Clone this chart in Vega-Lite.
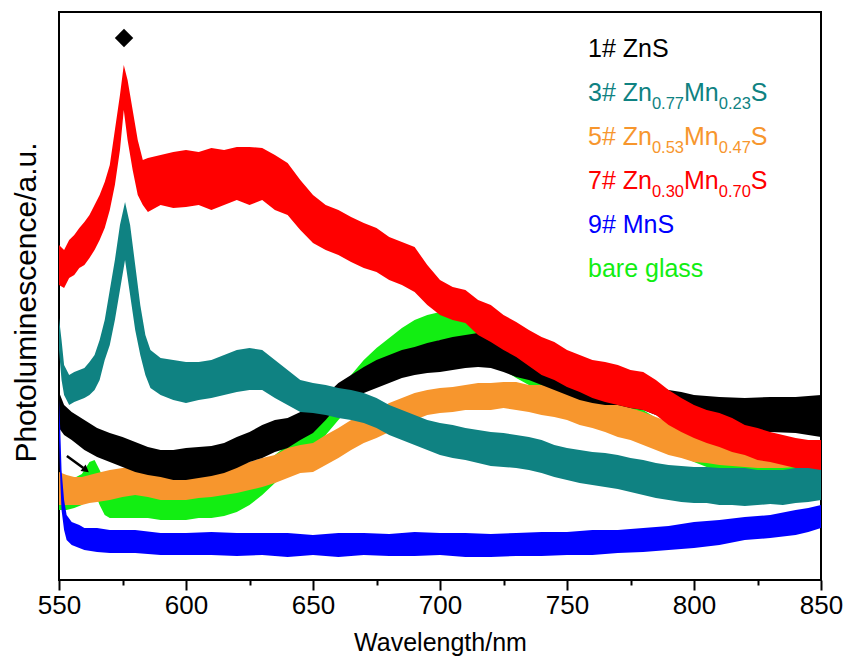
{
"$schema": "https://vega.github.io/schema/vega-lite/v6.json",
"width": 762, "height": 568,
"autosize": {"type": "none"},
"padding": {"left": 59, "top": 12, "right": 29, "bottom": 84},
"background": "white",
"config": {"view": {"stroke": "#000", "strokeWidth": 2}, "font": "Liberation Sans"},
"datasets": {
"pl": [
{"s":"7#","w":550,"v":335,"v2":295},{"s":"7#","w":552,"v":330,"v2":292},{"s":"7#","w":554,"v":340,"v2":302},{"s":"7#","w":556,"v":345,"v2":305},{"s":"7#","w":558,"v":352,"v2":312},{"s":"7#","w":560,"v":358,"v2":315},{"s":"7#","w":562,"v":365,"v2":322},{"s":"7#","w":564,"v":375,"v2":330},{"s":"7#","w":566,"v":385,"v2":340},{"s":"7#","w":568,"v":398,"v2":352},{"s":"7#","w":570,"v":415,"v2":370},{"s":"7#","w":572,"v":450,"v2":395},{"s":"7#","w":574,"v":485,"v2":430},{"s":"7#","w":575.5,"v":515,"v2":470},{"s":"7#","w":577,"v":500,"v2":440},{"s":"7#","w":579,"v":470,"v2":410},{"s":"7#","w":581,"v":440,"v2":385},{"s":"7#","w":583,"v":420,"v2":375},{"s":"7#","w":585,"v":422,"v2":368},{"s":"7#","w":590,"v":425,"v2":375},{"s":"7#","w":595,"v":428,"v2":372},{"s":"7#","w":600,"v":430,"v2":373},{"s":"7#","w":605,"v":428,"v2":375},{"s":"7#","w":610,"v":432,"v2":370},{"s":"7#","w":615,"v":430,"v2":375},{"s":"7#","w":620,"v":433,"v2":380},{"s":"7#","w":625,"v":433,"v2":375},{"s":"7#","w":630,"v":432,"v2":380},{"s":"7#","w":635,"v":425,"v2":370},{"s":"7#","w":640,"v":417,"v2":365},{"s":"7#","w":645,"v":400,"v2":350},{"s":"7#","w":650,"v":385,"v2":337},{"s":"7#","w":655,"v":375,"v2":330},{"s":"7#","w":660,"v":370,"v2":325},{"s":"7#","w":665,"v":363,"v2":318},{"s":"7#","w":670,"v":357,"v2":312},{"s":"7#","w":675,"v":352,"v2":308},{"s":"7#","w":680,"v":343,"v2":300},{"s":"7#","w":685,"v":338,"v2":295},{"s":"7#","w":690,"v":333,"v2":288},{"s":"7#","w":695,"v":315,"v2":275},{"s":"7#","w":700,"v":300,"v2":265},{"s":"7#","w":705,"v":293,"v2":260},{"s":"7#","w":710,"v":290,"v2":257},{"s":"7#","w":715,"v":280,"v2":245},{"s":"7#","w":720,"v":275,"v2":238},{"s":"7#","w":725,"v":265,"v2":230},{"s":"7#","w":730,"v":258,"v2":223},{"s":"7#","w":735,"v":250,"v2":214},{"s":"7#","w":740,"v":243,"v2":205},{"s":"7#","w":745,"v":238,"v2":200},{"s":"7#","w":750,"v":230,"v2":193},{"s":"7#","w":755,"v":225,"v2":188},{"s":"7#","w":760,"v":220,"v2":182},{"s":"7#","w":765,"v":218,"v2":178},{"s":"7#","w":770,"v":215,"v2":175},{"s":"7#","w":775,"v":210,"v2":172},{"s":"7#","w":780,"v":208,"v2":170},{"s":"7#","w":785,"v":200,"v2":165},{"s":"7#","w":790,"v":190,"v2":155},{"s":"7#","w":795,"v":182,"v2":148},{"s":"7#","w":800,"v":175,"v2":142},{"s":"7#","w":805,"v":170,"v2":137},{"s":"7#","w":810,"v":167,"v2":133},{"s":"7#","w":815,"v":162,"v2":128},{"s":"7#","w":820,"v":155,"v2":125},{"s":"7#","w":825,"v":152,"v2":120},{"s":"7#","w":830,"v":148,"v2":118},{"s":"7#","w":835,"v":145,"v2":115},{"s":"7#","w":840,"v":142,"v2":112},{"s":"7#","w":845,"v":140,"v2":112},{"s":"7#","w":850,"v":140,"v2":110},
{"s":"3#","w":550,"v":262,"v2":230},{"s":"3#","w":551,"v":240,"v2":200},{"s":"3#","w":552,"v":215,"v2":185},{"s":"3#","w":554,"v":205,"v2":175},{"s":"3#","w":556,"v":208,"v2":178},{"s":"3#","w":558,"v":210,"v2":180},{"s":"3#","w":560,"v":212,"v2":182},{"s":"3#","w":562,"v":218,"v2":185},{"s":"3#","w":564,"v":225,"v2":190},{"s":"3#","w":566,"v":240,"v2":200},{"s":"3#","w":568,"v":260,"v2":220},{"s":"3#","w":570,"v":290,"v2":235},{"s":"3#","w":572,"v":320,"v2":260},{"s":"3#","w":574,"v":355,"v2":290},{"s":"3#","w":576,"v":378,"v2":320},{"s":"3#","w":578,"v":355,"v2":285},{"s":"3#","w":580,"v":315,"v2":250},{"s":"3#","w":582,"v":275,"v2":225},{"s":"3#","w":584,"v":245,"v2":205},{"s":"3#","w":586,"v":230,"v2":192},{"s":"3#","w":590,"v":222,"v2":185},{"s":"3#","w":595,"v":220,"v2":180},{"s":"3#","w":600,"v":218,"v2":177},{"s":"3#","w":605,"v":218,"v2":180},{"s":"3#","w":610,"v":220,"v2":182},{"s":"3#","w":615,"v":225,"v2":185},{"s":"3#","w":620,"v":230,"v2":188},{"s":"3#","w":625,"v":232,"v2":190},{"s":"3#","w":630,"v":230,"v2":190},{"s":"3#","w":635,"v":220,"v2":182},{"s":"3#","w":640,"v":210,"v2":175},{"s":"3#","w":645,"v":200,"v2":168},{"s":"3#","w":650,"v":197,"v2":167},{"s":"3#","w":655,"v":195,"v2":165},{"s":"3#","w":660,"v":192,"v2":162},{"s":"3#","w":665,"v":190,"v2":160},{"s":"3#","w":670,"v":187,"v2":157},{"s":"3#","w":675,"v":182,"v2":152},{"s":"3#","w":680,"v":175,"v2":145},{"s":"3#","w":685,"v":170,"v2":140},{"s":"3#","w":690,"v":165,"v2":135},{"s":"3#","w":695,"v":160,"v2":130},{"s":"3#","w":700,"v":157,"v2":125},{"s":"3#","w":705,"v":155,"v2":122},{"s":"3#","w":710,"v":152,"v2":120},{"s":"3#","w":715,"v":150,"v2":117},{"s":"3#","w":720,"v":148,"v2":114},{"s":"3#","w":725,"v":147,"v2":113},{"s":"3#","w":730,"v":145,"v2":112},{"s":"3#","w":735,"v":143,"v2":110},{"s":"3#","w":740,"v":140,"v2":107},{"s":"3#","w":745,"v":135,"v2":103},{"s":"3#","w":750,"v":132,"v2":100},{"s":"3#","w":755,"v":130,"v2":97},{"s":"3#","w":760,"v":128,"v2":95},{"s":"3#","w":765,"v":127,"v2":93},{"s":"3#","w":770,"v":125,"v2":91},{"s":"3#","w":775,"v":122,"v2":88},{"s":"3#","w":780,"v":120,"v2":85},{"s":"3#","w":785,"v":117,"v2":82},{"s":"3#","w":790,"v":115,"v2":80},{"s":"3#","w":795,"v":114,"v2":78},{"s":"3#","w":800,"v":113,"v2":77},{"s":"3#","w":805,"v":113,"v2":77},{"s":"3#","w":810,"v":112,"v2":75},{"s":"3#","w":815,"v":112,"v2":75},{"s":"3#","w":820,"v":112,"v2":74},{"s":"3#","w":825,"v":110,"v2":75},{"s":"3#","w":830,"v":110,"v2":76},{"s":"3#","w":835,"v":110,"v2":75},{"s":"3#","w":840,"v":112,"v2":77},{"s":"3#","w":845,"v":113,"v2":78},{"s":"3#","w":850,"v":114,"v2":80},
{"s":"1#","w":550,"v":188,"v2":152},{"s":"1#","w":552,"v":175,"v2":145},{"s":"1#","w":555,"v":168,"v2":140},{"s":"1#","w":560,"v":160,"v2":130},{"s":"1#","w":565,"v":152,"v2":123},{"s":"1#","w":570,"v":147,"v2":118},{"s":"1#","w":575,"v":143,"v2":113},{"s":"1#","w":580,"v":138,"v2":108},{"s":"1#","w":585,"v":133,"v2":105},{"s":"1#","w":590,"v":130,"v2":103},{"s":"1#","w":595,"v":130,"v2":100},{"s":"1#","w":600,"v":132,"v2":100},{"s":"1#","w":605,"v":133,"v2":102},{"s":"1#","w":610,"v":134,"v2":104},{"s":"1#","w":615,"v":137,"v2":107},{"s":"1#","w":620,"v":143,"v2":112},{"s":"1#","w":625,"v":148,"v2":118},{"s":"1#","w":630,"v":155,"v2":122},{"s":"1#","w":635,"v":160,"v2":128},{"s":"1#","w":640,"v":162,"v2":132},{"s":"1#","w":645,"v":168,"v2":140},{"s":"1#","w":650,"v":175,"v2":147},{"s":"1#","w":655,"v":185,"v2":160},{"s":"1#","w":660,"v":197,"v2":175},{"s":"1#","w":665,"v":205,"v2":182},{"s":"1#","w":670,"v":213,"v2":187},{"s":"1#","w":675,"v":220,"v2":192},{"s":"1#","w":680,"v":225,"v2":197},{"s":"1#","w":685,"v":230,"v2":202},{"s":"1#","w":690,"v":233,"v2":205},{"s":"1#","w":695,"v":237,"v2":207},{"s":"1#","w":700,"v":240,"v2":208},{"s":"1#","w":705,"v":243,"v2":210},{"s":"1#","w":710,"v":245,"v2":212},{"s":"1#","w":715,"v":247,"v2":213},{"s":"1#","w":720,"v":245,"v2":212},{"s":"1#","w":725,"v":242,"v2":208},{"s":"1#","w":730,"v":238,"v2":203},{"s":"1#","w":735,"v":235,"v2":200},{"s":"1#","w":740,"v":228,"v2":195},{"s":"1#","w":745,"v":222,"v2":190},{"s":"1#","w":750,"v":217,"v2":185},{"s":"1#","w":755,"v":212,"v2":180},{"s":"1#","w":760,"v":208,"v2":177},{"s":"1#","w":765,"v":205,"v2":175},{"s":"1#","w":770,"v":208,"v2":175},{"s":"1#","w":775,"v":205,"v2":172},{"s":"1#","w":780,"v":200,"v2":170},{"s":"1#","w":785,"v":195,"v2":165},{"s":"1#","w":790,"v":190,"v2":160},{"s":"1#","w":795,"v":188,"v2":156},{"s":"1#","w":800,"v":185,"v2":153},{"s":"1#","w":810,"v":183,"v2":150},{"s":"1#","w":820,"v":182,"v2":148},{"s":"1#","w":830,"v":183,"v2":148},{"s":"1#","w":840,"v":183,"v2":147},{"s":"1#","w":850,"v":185,"v2":143},
{"s":"glass","w":550,"v":102,"v2":70},{"s":"glass","w":553,"v":100,"v2":70},{"s":"glass","w":556,"v":102,"v2":72},{"s":"glass","w":559,"v":106,"v2":75},{"s":"glass","w":562,"v":118,"v2":85},{"s":"glass","w":564,"v":120,"v2":88},{"s":"glass","w":566,"v":110,"v2":75},{"s":"glass","w":568,"v":98,"v2":65},{"s":"glass","w":570,"v":95,"v2":62},{"s":"glass","w":575,"v":93,"v2":62},{"s":"glass","w":580,"v":92,"v2":62},{"s":"glass","w":585,"v":90,"v2":62},{"s":"glass","w":590,"v":90,"v2":60},{"s":"glass","w":595,"v":88,"v2":60},{"s":"glass","w":600,"v":88,"v2":60},{"s":"glass","w":605,"v":87,"v2":62},{"s":"glass","w":610,"v":88,"v2":62},{"s":"glass","w":615,"v":90,"v2":64},{"s":"glass","w":620,"v":95,"v2":68},{"s":"glass","w":625,"v":102,"v2":75},{"s":"glass","w":630,"v":112,"v2":85},{"s":"glass","w":635,"v":125,"v2":97},{"s":"glass","w":640,"v":135,"v2":110},{"s":"glass","w":645,"v":145,"v2":118},{"s":"glass","w":650,"v":160,"v2":133},{"s":"glass","w":655,"v":175,"v2":145},{"s":"glass","w":660,"v":190,"v2":160},{"s":"glass","w":665,"v":205,"v2":175},{"s":"glass","w":670,"v":220,"v2":190},{"s":"glass","w":675,"v":232,"v2":202},{"s":"glass","w":680,"v":242,"v2":212},{"s":"glass","w":685,"v":252,"v2":220},{"s":"glass","w":690,"v":260,"v2":228},{"s":"glass","w":695,"v":265,"v2":235},{"s":"glass","w":700,"v":268,"v2":240},{"s":"glass","w":705,"v":265,"v2":238},{"s":"glass","w":710,"v":260,"v2":235},{"s":"glass","w":715,"v":255,"v2":228},{"s":"glass","w":720,"v":245,"v2":218},{"s":"glass","w":725,"v":238,"v2":210},{"s":"glass","w":730,"v":230,"v2":202},{"s":"glass","w":735,"v":222,"v2":195},{"s":"glass","w":740,"v":215,"v2":188},{"s":"glass","w":745,"v":208,"v2":182},{"s":"glass","w":750,"v":202,"v2":177},{"s":"glass","w":755,"v":197,"v2":173},{"s":"glass","w":760,"v":190,"v2":167},{"s":"glass","w":765,"v":185,"v2":162},{"s":"glass","w":770,"v":180,"v2":157},{"s":"glass","w":775,"v":175,"v2":152},{"s":"glass","w":780,"v":170,"v2":147},{"s":"glass","w":785,"v":162,"v2":140},{"s":"glass","w":790,"v":155,"v2":132},{"s":"glass","w":795,"v":148,"v2":125},{"s":"glass","w":800,"v":140,"v2":118},{"s":"glass","w":805,"v":133,"v2":113},{"s":"glass","w":810,"v":128,"v2":108},{"s":"glass","w":815,"v":125,"v2":105},{"s":"glass","w":820,"v":123,"v2":103},{"s":"glass","w":825,"v":122,"v2":102},{"s":"glass","w":830,"v":122,"v2":100},{"s":"glass","w":835,"v":123,"v2":100},{"s":"glass","w":840,"v":124,"v2":102},{"s":"glass","w":845,"v":125,"v2":102},{"s":"glass","w":850,"v":128,"v2":103},
{"s":"5#","w":550,"v":108,"v2":75},{"s":"5#","w":553,"v":105,"v2":75},{"s":"5#","w":556,"v":103,"v2":75},{"s":"5#","w":559,"v":103,"v2":75},{"s":"5#","w":562,"v":105,"v2":77},{"s":"5#","w":565,"v":107,"v2":78},{"s":"5#","w":570,"v":110,"v2":80},{"s":"5#","w":575,"v":112,"v2":83},{"s":"5#","w":580,"v":113,"v2":85},{"s":"5#","w":585,"v":112,"v2":83},{"s":"5#","w":590,"v":110,"v2":80},{"s":"5#","w":595,"v":110,"v2":80},{"s":"5#","w":600,"v":110,"v2":80},{"s":"5#","w":605,"v":110,"v2":82},{"s":"5#","w":610,"v":112,"v2":83},{"s":"5#","w":615,"v":113,"v2":85},{"s":"5#","w":620,"v":115,"v2":87},{"s":"5#","w":625,"v":118,"v2":90},{"s":"5#","w":630,"v":122,"v2":93},{"s":"5#","w":635,"v":125,"v2":97},{"s":"5#","w":640,"v":132,"v2":102},{"s":"5#","w":645,"v":135,"v2":107},{"s":"5#","w":650,"v":137,"v2":108},{"s":"5#","w":655,"v":145,"v2":115},{"s":"5#","w":660,"v":152,"v2":122},{"s":"5#","w":665,"v":160,"v2":130},{"s":"5#","w":670,"v":165,"v2":137},{"s":"5#","w":675,"v":170,"v2":142},{"s":"5#","w":680,"v":177,"v2":148},{"s":"5#","w":685,"v":182,"v2":155},{"s":"5#","w":690,"v":187,"v2":160},{"s":"5#","w":695,"v":190,"v2":165},{"s":"5#","w":700,"v":192,"v2":167},{"s":"5#","w":705,"v":193,"v2":168},{"s":"5#","w":710,"v":195,"v2":170},{"s":"5#","w":715,"v":197,"v2":170},{"s":"5#","w":720,"v":197,"v2":170},{"s":"5#","w":725,"v":198,"v2":172},{"s":"5#","w":730,"v":198,"v2":170},{"s":"5#","w":735,"v":195,"v2":168},{"s":"5#","w":740,"v":195,"v2":165},{"s":"5#","w":745,"v":193,"v2":163},{"s":"5#","w":750,"v":190,"v2":160},{"s":"5#","w":755,"v":187,"v2":155},{"s":"5#","w":760,"v":183,"v2":152},{"s":"5#","w":765,"v":180,"v2":148},{"s":"5#","w":770,"v":177,"v2":143},{"s":"5#","w":775,"v":172,"v2":140},{"s":"5#","w":780,"v":168,"v2":135},{"s":"5#","w":785,"v":163,"v2":130},{"s":"5#","w":790,"v":158,"v2":125},{"s":"5#","w":795,"v":153,"v2":122},{"s":"5#","w":800,"v":150,"v2":118},{"s":"5#","w":805,"v":148,"v2":117},{"s":"5#","w":810,"v":147,"v2":115},{"s":"5#","w":815,"v":145,"v2":114},{"s":"5#","w":820,"v":143,"v2":113},{"s":"5#","w":825,"v":142,"v2":112},{"s":"5#","w":830,"v":142,"v2":112},{"s":"5#","w":835,"v":140,"v2":112},{"s":"5#","w":840,"v":140,"v2":113},{"s":"5#","w":845,"v":140,"v2":112},{"s":"5#","w":850,"v":140,"v2":112},
{"s":"9#","w":550,"v":180,"v2":140},{"s":"9#","w":550.5,"v":150,"v2":100},{"s":"9#","w":551,"v":110,"v2":70},{"s":"9#","w":552,"v":80,"v2":50},{"s":"9#","w":553,"v":65,"v2":40},{"s":"9#","w":555,"v":58,"v2":35},{"s":"9#","w":558,"v":55,"v2":32},{"s":"9#","w":560,"v":52,"v2":30},{"s":"9#","w":565,"v":52,"v2":28},{"s":"9#","w":570,"v":50,"v2":27},{"s":"9#","w":580,"v":50,"v2":27},{"s":"9#","w":590,"v":47,"v2":25},{"s":"9#","w":600,"v":47,"v2":25},{"s":"9#","w":610,"v":48,"v2":25},{"s":"9#","w":620,"v":47,"v2":24},{"s":"9#","w":630,"v":47,"v2":25},{"s":"9#","w":640,"v":47,"v2":23},{"s":"9#","w":650,"v":45,"v2":25},{"s":"9#","w":660,"v":47,"v2":23},{"s":"9#","w":670,"v":47,"v2":25},{"s":"9#","w":680,"v":46,"v2":24},{"s":"9#","w":690,"v":48,"v2":24},{"s":"9#","w":700,"v":47,"v2":25},{"s":"9#","w":710,"v":47,"v2":23},{"s":"9#","w":720,"v":46,"v2":23},{"s":"9#","w":730,"v":47,"v2":24},{"s":"9#","w":740,"v":48,"v2":24},{"s":"9#","w":750,"v":48,"v2":25},{"s":"9#","w":760,"v":50,"v2":25},{"s":"9#","w":770,"v":50,"v2":27},{"s":"9#","w":780,"v":52,"v2":28},{"s":"9#","w":790,"v":54,"v2":30},{"s":"9#","w":800,"v":58,"v2":32},{"s":"9#","w":810,"v":60,"v2":35},{"s":"9#","w":820,"v":63,"v2":40},{"s":"9#","w":830,"v":65,"v2":42},{"s":"9#","w":840,"v":70,"v2":45},{"s":"9#","w":845,"v":72,"v2":48},{"s":"9#","w":850,"v":75,"v2":52}
],
"lab": [
{"s":"1#","t":"1# ZnS","w":758.27,"v":523,"k":"main"},
{"s":"3#","t":"3# Zn","w":758.27,"v":479,"k":"main"},{"s":"3#","t":"0.77","w":783.43,"v":479,"k":"sub"},{"s":"3#","t":"Mn","w":796.07,"v":479,"k":"main"},{"s":"3#","t":"0.23","w":809.74,"v":479,"k":"sub"},{"s":"3#","t":"S","w":822.38,"v":479,"k":"main"},
{"s":"5#","t":"5# Zn","w":758.27,"v":435,"k":"main"},{"s":"5#","t":"0.53","w":783.43,"v":435,"k":"sub"},{"s":"5#","t":"Mn","w":796.07,"v":435,"k":"main"},{"s":"5#","t":"0.47","w":809.74,"v":435,"k":"sub"},{"s":"5#","t":"S","w":822.38,"v":435,"k":"main"},
{"s":"7#","t":"7# Zn","w":758.27,"v":391,"k":"main"},{"s":"7#","t":"0.30","w":783.43,"v":391,"k":"sub"},{"s":"7#","t":"Mn","w":796.07,"v":391,"k":"main"},{"s":"7#","t":"0.70","w":809.74,"v":391,"k":"sub"},{"s":"7#","t":"S","w":822.38,"v":391,"k":"main"},
{"s":"9#","t":"9# MnS","w":758.27,"v":347,"k":"main"},
{"s":"glass","t":"bare glass","w":758.27,"v":303,"k":"main"}
],
"ann": [
{"kind":"diamond","w":575.6,"v":542,"w2":575.6,"v2":542},
{"kind":"arrow","w":553.1,"v":124,"w2":559.6,"v2":112},
{"kind":"head","w":560.6,"v":110,"w2":560.6,"v2":110}
]
},
"encoding": {
"x": {"field":"w","type":"quantitative","scale":{"domain":[550,850],"nice":false,"zero":false},
"axis":{"values":[550,575,600,625,650,675,700,725,750,775,800,825,850],"labelExpr":"datum.value % 50 === 0 ? datum.label : ''","tickSize":{"condition":{"test":"datum.value % 50 === 0","value":10},"value":5},"tickColor":"#000","tickWidth":2,"domain":false,"grid":false,"labelFont":"Liberation Sans","labelFontSize":26,"labelColor":"#000","labelPadding":2,"labelFlush":false,"labelOverlap":false,"title":"Wavelength/nm","titleFont":"Liberation Sans","titleFontSize":25,"titleFontWeight":"normal","titleColor":"#000","titleY":70,"titleBaseline":"alphabetic"}},
"y": {"field":"v","type":"quantitative","scale":{"domain":[0,568],"nice":false,"zero":false},
"axis":{"labels":false,"ticks":false,"domain":false,"grid":false,"title":"Photoluminescence/a.u.","titleFont":"Liberation Sans","titleFontSize":30,"titleFontWeight":"normal","titleColor":"#000","titleX":-24,"titleY":290,"titleBaseline":"alphabetic","titleAngle":270}}
},
"layer": [
{"data":{"name":"pl"},"transform":[{"filter":"datum.s === 'glass'"}],"mark":{"type":"area","opacity":1},"encoding":{"y2":{"field":"v2"},"color":{"field":"s","type":"nominal","legend":null,"scale":{"domain":["1#","3#","5#","7#","9#","glass"],"range":["#000000","#0f8282","#f7962d","#ff0000","#0000ff","#12ee12"]}}}},
{"data":{"name":"pl"},"transform":[{"filter":"datum.s === '5#'"}],"mark":{"type":"area","opacity":1},"encoding":{"y2":{"field":"v2"},"color":{"field":"s","type":"nominal","legend":null}}},
{"data":{"name":"pl"},"transform":[{"filter":"datum.s === '1#'"}],"mark":{"type":"area","opacity":1},"encoding":{"y2":{"field":"v2"},"color":{"field":"s","type":"nominal","legend":null}}},
{"data":{"name":"pl"},"transform":[{"filter":"datum.s === '3#'"}],"mark":{"type":"area","opacity":1},"encoding":{"y2":{"field":"v2"},"color":{"field":"s","type":"nominal","legend":null}}},
{"data":{"name":"pl"},"transform":[{"filter":"datum.s === '7#'"}],"mark":{"type":"area","opacity":1},"encoding":{"y2":{"field":"v2"},"color":{"field":"s","type":"nominal","legend":null}}},
{"data":{"name":"pl"},"transform":[{"filter":"datum.s === '9#'"}],"mark":{"type":"area","opacity":1},"encoding":{"y2":{"field":"v2"},"color":{"field":"s","type":"nominal","legend":null}}},
{"data":{"name":"ann"},"transform":[{"filter":"datum.kind === 'diamond'"}],"mark":{"type":"point","shape":"diamond","filled":true,"color":"#000","opacity":1,"size":340}},
{"data":{"name":"ann"},"transform":[{"filter":"datum.kind === 'arrow'"}],"mark":{"type":"rule","color":"#000","strokeWidth":2.5},"encoding":{"x2":{"field":"w2"},"y2":{"field":"v2"}}},
{"data":{"name":"ann"},"transform":[{"filter":"datum.kind === 'head'"}],"mark":{"type":"point","shape":"triangle-up","filled":true,"color":"#000","opacity":1,"size":70,"angle":128}},
{"data":{"name":"lab"},"transform":[{"filter":"datum.k === 'main'"}],"mark":{"type":"text","align":"left","baseline":"alphabetic","fontSize":25,"font":"Liberation Sans"},"encoding":{"text":{"field":"t"},"color":{"field":"s","type":"nominal","legend":null}}},
{"data":{"name":"lab"},"transform":[{"filter":"datum.k === 'sub'"}],"mark":{"type":"text","align":"left","baseline":"alphabetic","fontSize":16.5,"dy":8,"font":"Liberation Sans"},"encoding":{"text":{"field":"t"},"color":{"field":"s","type":"nominal","legend":null}}}
]
}
